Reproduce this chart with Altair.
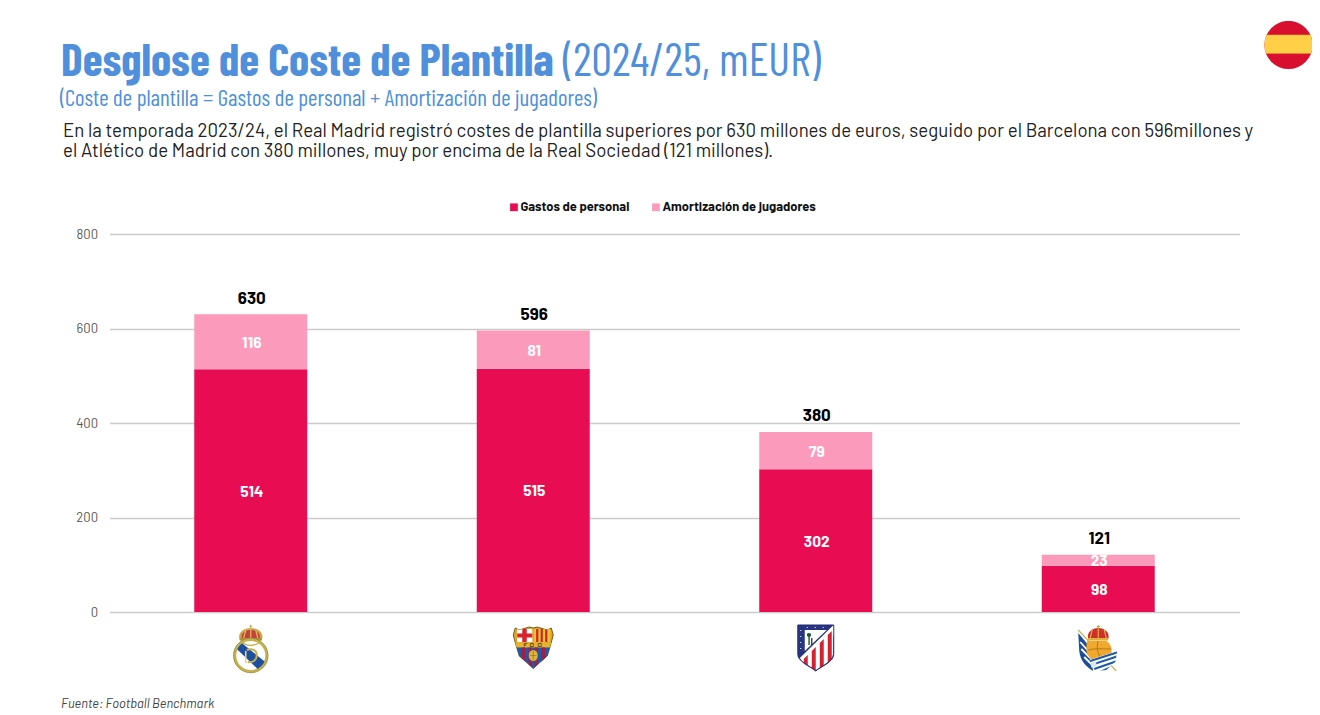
import base64
import altair as alt
import pandas as pd

# ---- values ----
clubs = ["Real Madrid", "Barcelona", "Atlético de Madrid", "Real Sociedad"]
gastos = [514, 515, 302, 98]
amort = [116, 81, 79, 23]
totals = [630, 596, 380, 121]
series_names = ["Gastos de personal", "Amortización de jugadores"]
series_colors = ["#E80D53", "#FC9ABC"]
y_ticks = [0, 200, 400, 600, 800]

title_bold = "Desglose de Coste de Plantilla"
title_light = "(2024/25, mEUR)"
subtitle = "(Coste de plantilla = Gastos de personal + Amortización de jugadores)"
body1 = ("En la temporada 2023/24, el Real Madrid registró costes de plantilla superiores por 630 millones de euros, "
         "seguido por el Barcelona con 596millones y")
body2 = "el Atlético de Madrid con 380 millones, muy por encima de la Real Sociedad (121 millones)."
source = "Fuente: Football Benchmark"

BLUE = "#4F8FDB"
BODY_FONT = "Barlow, Roboto"
NUM_FONT = "Barlow, Inter"
NARROW = "Barlow Condensed, Roboto Condensed"


def uri(svg):
    s = '<svg xmlns="http://www.w3.org/2000/svg" viewBox="0 0 60 60" width="240" height="240">' + svg + "</svg>"
    return "data:image/svg+xml;base64," + base64.b64encode(s.encode()).decode()


rm = """
<defs><clipPath id="r"><circle cx="30" cy="37.500" r="15"/></clipPath></defs>
<path d="M30 7v3M28.700 8.200h2.600" stroke="#B9A24A" stroke-width="1"/>
<path d="M19 22c-3-8 5-12 11-12s14 4 11 12z" fill="#C9A64A"/>
<path d="M21 20c-1-6 5-8 9-8s10 2 9 8z" fill="#C8403A"/>
<path d="M30 10v11M25 12l-2 8M35 12l2 8" stroke="#D9BE62" stroke-width="1.200"/>
<rect x="19" y="20" width="22" height="2.600" fill="#B08F34"/>
<circle cx="30" cy="37.500" r="16" fill="#fff" stroke="#C4B24C" stroke-width="3"/>
<circle cx="30" cy="37.500" r="17.300" fill="none" stroke="#7E7430" stroke-width=".5"/>
<g clip-path="url(#r)"><path d="M14 29 L21 25 L47 46 L40 54z" fill="#1D4FA0"/>
<path d="M26 32c5-2 10 0 10 5s-4 8-9 7" fill="none" stroke="#C4B24C" stroke-width="2"/>
<path d="M25 33v12" stroke="#E6D67C" stroke-width="1.600"/></g>
<path d="M22 25c5 3 11 3 16 0" fill="none" stroke="#C4B24C" stroke-width="1.400"/>
"""

fcb = """
<defs><clipPath id="f"><path d="M12 10 16 12 26 9 30 10 34 9 44 12 48 10 50 17 47 28 44 38 36 45 30 50.500 24 45 16 38 13 28 10 17z"/></clipPath></defs>
<path d="M12 10 16 12 26 9 30 10 34 9 44 12 48 10 50 17 47 28 44 38 36 45 30 50.500 24 45 16 38 13 28 10 17z" fill="#D9A92B" stroke="#7D5A18" stroke-width="1"/>
<g clip-path="url(#f)">
<rect x="14" y="11" width="15" height="13" fill="#fff"/>
<rect x="19" y="11" width="4.500" height="13" fill="#D8232F"/>
<rect x="14" y="15.500" width="15" height="4" fill="#D8232F"/>
<rect x="31" y="11" width="16" height="13" fill="#F2C230"/>
<path d="M34 11v13M38.500 11v13M43 11v13" stroke="#C9252D" stroke-width="2.200"/>
<rect x="10" y="24.500" width="40" height="5" fill="#E6B52E"/>
<path d="M21 25.500h3M21 25.500v3M21 27h2M27 25.500h3v3h-3zM35 25.500h3v3h-3z" stroke="#5B3A12" stroke-width=".8" fill="none"/>
<rect x="10" y="29.500" width="40" height="22" fill="#1E5AA8"/>
<path d="M20 29.500v21M27 29.500v21M33 29.500v21M40 29.500v21" stroke="#A81B45" stroke-width="3.400"/>
<ellipse cx="30" cy="37.500" rx="4.500" ry="5.500" fill="#E0B63A"/>
<path d="M26.500 37.500h7M30 32.500v10" stroke="#8D6B1C" stroke-width=".6"/>
</g>
"""

atm = """
<defs><clipPath id="a"><path d="M12 7H48V36C48 44 36 48 30 53 24 48 12 44 12 36z"/></clipPath></defs>
<path d="M12 7H48V36C48 44 36 48 30 53 24 48 12 44 12 36z" fill="#fff" stroke="#252F78" stroke-width="1"/>
<g clip-path="url(#a)">
<path d="M12 7H48L15 40 12 40z" fill="#273580"/>
<path d="M19 12H41L19 33z" fill="#fff"/>
<path d="M23 15c2 0 3 1 2 3l-1 1v8h-1.400v-8c-2-1-2-4 .4-4z" fill="#1E5A3A"/>
<path d="M26 20v7" stroke="#222" stroke-width="1.200"/>
<path d="M48 7V18L15 51 12 42z" fill="#fff"/>
<path d="M18 41V56h4V37zM26 33V56h4V29zM34 25V56h4V21zM42 17V56h4V13z" fill="#D8212F"/>
<path d="M12 7H48V36C48 44 36 48 30 53 24 48 12 44 12 36z" fill="none" stroke="#252F78" stroke-width="1.400"/>
<path d="M15 12v1M15 18v1M15 24v1M15 30v1M21 9.500h1M29 9.500h1M37 9.500h1" stroke="#fff" stroke-width="1"/>
</g>
"""

rs = """
<defs><clipPath id="w"><path d="M21 42 49 33 47 44 38 52 27 53z"/></clipPath></defs>
<path d="M10 12 48 53" stroke="#C6B25C" stroke-width="1.200"/>
<path d="M10 15 20 27 22 41 25 53C18 49 12 43 11 33z" fill="#1E4E97"/>
<path d="M12 24 20 33M13 31 22 40M16 39 23 46" stroke="#fff" stroke-width="1.800"/>
<path d="M20 21c-2-7 4-11 10-11s12 4 10 11z" fill="#CF2F2B"/>
<path d="M30 7v5M28.500 8.500h3" stroke="#B99A38" stroke-width="1"/>
<path d="M24 12l-2 8M30 11v9M36 12l2 8" stroke="#E0B93E" stroke-width="1.100"/>
<rect x="20" y="20" width="20" height="2.600" fill="#E0B03C"/>
<path d="M19 23H38C43 26 44 31 43 36L24 42C18 38 17 30 19 23z" fill="#F0A92D"/>
<path d="M30 23C28 28 29 34 32 39M20 32C27 30 34 31 43 31" stroke="#A86F16" stroke-width=".8" fill="none"/>
<path d="M21 42 49 33 47 44 38 52 27 53z" fill="#fff"/>
<g clip-path="url(#w)"><path d="M19 44 50 34M20 48 50 38M23 52 49 43M27 56 48 47" stroke="#1E5BA8" stroke-width="2.100"/></g>
<path d="M22 45l6-1.500v4.500l-5 1.500z" fill="#DCE6F2"/>
"""

flag = """
<defs><clipPath id="c"><circle cx="30" cy="30" r="29.500"/></clipPath></defs>
<g clip-path="url(#c)"><rect width="60" height="60" fill="#D80F2F"/>
<rect y="17.500" width="60" height="23" fill="#FFCF45"/></g>
"""

crest_urls = [uri(rm), uri(fcb), uri(atm), uri(rs)]

# ---- tables ----
rows = []
for club, g, a in zip(clubs, gastos, amort):
    rows.append(dict(club=club, serie=series_names[0], order=0, start=0, end=g, value=g))
    rows.append(dict(club=club, serie=series_names[1], order=1, start=g, end=g + a, value=a))
seg = pd.DataFrame(rows)
seg["mid"] = (seg["start"] + seg["end"]) / 2
tot = pd.DataFrame(dict(club=clubs, total=totals, top=[g + a for g, a in zip(gastos, amort)]))
crests = pd.DataFrame(dict(club=clubs, url=crest_urls))

# page coordinates of the plot area
LEFT, TOP, W, H = 101.5, 226, 1130, 378

x_enc = alt.X(
    "club:N", sort=clubs, title=None,
    scale=alt.Scale(paddingInner=0.6, paddingOuter=0.3),
    axis=alt.Axis(labels=False, ticks=False, domain=False, grid=False),
)
y_scale = alt.Scale(domain=[0, 800], nice=False)

bars = alt.Chart(seg).mark_bar().encode(
    x=x_enc,
    y=alt.Y(
        "start:Q", scale=y_scale, title=None,
        axis=alt.Axis(
            values=y_ticks, grid=True, gridColor="#CBCBCB", gridWidth=1.5, domain=False, ticks=False,
            labelFont=BODY_FONT, labelFontSize=13, labelColor="#555555", labelPadding=12, format="d",
        ),
    ),
    y2="end:Q",
    color=alt.Color(
        "serie:N",
        scale=alt.Scale(domain=series_names, range=series_colors),
        legend=alt.Legend(
            orient="none", legendX=398, legendY=-33.5, direction="horizontal", title=None,
            symbolType="square", symbolSize=60, symbolStrokeWidth=0, labelFont=NUM_FONT, labelFontSize=12.9,
            labelFontWeight="bold", labelColor="#111111", columnPadding=20, labelOffset=0, labelLimit=300,
        ),
    ),
)

seg_labels = alt.Chart(seg).mark_text(
    font=NUM_FONT, fontSize=15.5, fontWeight="bold", color="#FFFFFF", baseline="middle", dy=1, dx=1
).encode(
    x=alt.X("club:N", sort=clubs),
    y=alt.Y("mid:Q", scale=y_scale),
    text="value:Q",
)

tot_labels = alt.Chart(tot).mark_text(
    font=NUM_FONT, fontSize=17, fontWeight="bold", color="#000000", baseline="middle", dy=-15.5, dx=1
).encode(
    x=alt.X("club:N", sort=clubs),
    y=alt.Y("top:Q", scale=y_scale),
    text="total:Q",
)

crest_layer = alt.Chart(crests).mark_image(width=60, height=60, align="center", baseline="middle").encode(
    x=alt.X("club:N", sort=clubs),
    y=alt.value(414),
    url="url:N",
)


def txt(text, x, y, **kw):
    return alt.Chart(pd.DataFrame({"t": [text]})).mark_text(align="left", baseline="alphabetic", **kw).encode(
        x=alt.value(x - LEFT - 8), y=alt.value(y - TOP - 8), text="t:N"
    )


title_a = txt(title_bold, 61, 76, font=NARROW, fontSize=45.6, fontWeight="bold", color=BLUE)
title_b = txt(title_light, 563, 76, font=NARROW, fontSize=45.8, color=BLUE)
sub = txt(subtitle, 60, 106, font=NARROW, fontSize=22.9, color=BLUE)
b1 = txt(body1, 63, 137, font=BODY_FONT, fontSize=18.65, color="#222222")
b2 = txt(body2, 63, 157, font=BODY_FONT, fontSize=18.65, color="#222222")
src = txt(source, 61, 708, font=BODY_FONT, fontSize=12.85, fontStyle="italic", color="#444444")

flag_layer = alt.Chart(pd.DataFrame({"url": [uri(flag)]})).mark_image(
    width=49, height=49, align="center", baseline="middle"
).encode(x=alt.value(1288.5 - LEFT - 8), y=alt.value(45 - TOP - 8), url="url:N")

chart = alt.layer(
    bars, seg_labels, tot_labels, crest_layer, flag_layer, title_a, title_b, sub, b1, b2, src
).properties(
    width=W, height=H,
    autosize=alt.AutoSizeParams(type="none"),
    padding={"left": LEFT, "top": TOP, "right": 72.5, "bottom": 100},
    background="#FFFFFF",
).configure_view(stroke=None)

chart.save("out.html", embed_options={"renderer": "svg", "actions": False})
